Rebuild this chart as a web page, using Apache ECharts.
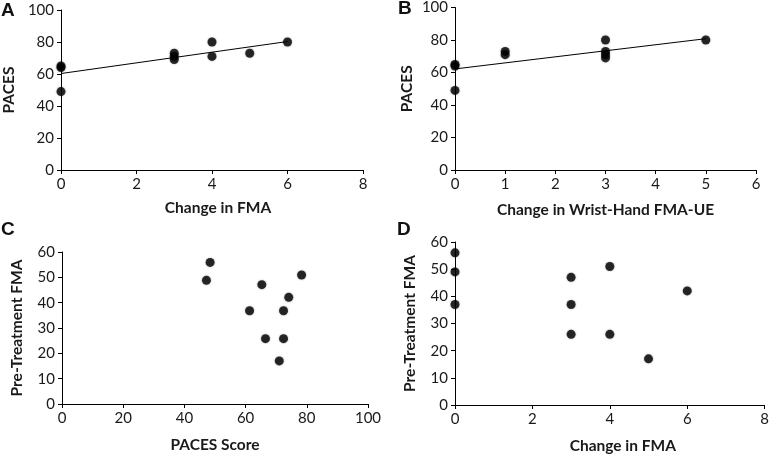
<!DOCTYPE html>
<html>
<head>
<meta charset="utf-8">
<script src="https://cdn.jsdelivr.net/npm/echarts@6/dist/echarts.min.js"></script>
<style>
html,body{margin:0;padding:0;background:#fff;}
#chart{width:772px;height:455px;}
</style>
</head>
<body>
<div id="chart"></div>
<script>
// Panel A: Change in FMA vs PACES
var panelA_x = [0, 0, 0, 3, 3, 3, 4, 4, 5, 6];
var panelA_y = [65, 64, 49, 73, 71, 69, 80, 71, 73, 80];
var trendA = [[0, 60.3], [6, 80.3]];
// Panel B: Change in Wrist-Hand FMA-UE vs PACES
var panelB_x = [0, 0, 0, 1, 1, 3, 3, 3, 3, 5];
var panelB_y = [65, 64, 49, 73, 71, 80, 73, 71, 69, 80];
var trendB = [[0, 62.2], [5, 80.8]];
// Panel C: PACES Score vs Pre-Treatment FMA
var panelC_x = [47.2, 48.4, 61.3, 65.3, 66.5, 71.0, 72.4, 72.4, 74.1, 78.3];
var panelC_y = [48.8, 55.9, 36.8, 47.1, 25.8, 17.0, 36.8, 25.8, 42.1, 50.9];
// Panel D: Change in FMA vs Pre-Treatment FMA
var panelD_x = [0, 0, 0, 3, 3, 3, 4, 4, 5, 6];
var panelD_y = [56, 49, 37, 47, 37, 26, 51, 26, 17, 42];

var panelLetters = ['A', 'B', 'C', 'D'];
var xNames = ['Change in FMA', 'Change in Wrist-Hand FMA-UE', 'PACES Score', 'Change in FMA'];
var yNames = ['PACES', 'PACES', 'Pre-Treatment FMA', 'Pre-Treatment FMA'];

function pairs(xs, ys) { return xs.map(function (v, i) { return [v, ys[i]]; }); }

var FONT = 'Lato, "Open Sans", sans-serif';
var axisLineStyle = { color: '#000', width: 1 };

function xAx(idx, min, max, interval, nameGap, padLeft) {
  return {
    gridIndex: idx, type: 'value', min: min, max: max, interval: interval,
    name: xNames[idx], nameLocation: 'middle', nameGap: nameGap,
    nameTextStyle: { fontFamily: FONT, fontWeight: 'bold', fontSize: 15.5, color: '#1a1a1a', padding: [0, 0, 0, padLeft] },
    axisLine: { show: true, lineStyle: axisLineStyle },
    axisTick: { show: true, length: 4, lineStyle: axisLineStyle },
    axisLabel: { fontFamily: FONT, fontSize: 15, color: '#1a1a1a', margin: 7 },
    splitLine: { show: false }
  };
}
function yAx(idx, min, max, interval, nameGap) {
  return {
    gridIndex: idx, type: 'value', min: min, max: max, interval: interval,
    name: yNames[idx], nameLocation: 'middle', nameGap: nameGap,
    nameTextStyle: { fontFamily: FONT, fontWeight: 'bold', fontSize: 15.5, color: '#1a1a1a' },
    axisLine: { show: true, lineStyle: axisLineStyle },
    axisTick: { show: true, length: 4, lineStyle: axisLineStyle },
    axisLabel: { fontFamily: FONT, fontSize: 15, color: '#1a1a1a', margin: 7 },
    splitLine: { show: false }
  };
}

var dotStyle = { color: '#000', shadowBlur: 2, shadowColor: 'rgba(0,0,0,0.4)' };
function scatter(idx, data) {
  return { type: 'scatter', xAxisIndex: idx, yAxisIndex: idx, data: data, symbolSize: 9, itemStyle: dotStyle, z: 3 };
}
function trend(idx, data) {
  return { type: 'line', xAxisIndex: idx, yAxisIndex: idx, data: data, symbol: 'none', lineStyle: { color: '#000', width: 1 }, z: 2, silent: true };
}

var letterPos = [[1, 1], [398, -1], [1, 220], [397, 220]];

var option = {
  backgroundColor: '#fff',
  animation: false,
  title: panelLetters.map(function (t, i) {
    return { text: t, left: letterPos[i][0], top: letterPos[i][1], padding: 0,
      textStyle: { fontFamily: 'Arial, "Liberation Sans", sans-serif', fontWeight: 'bold', fontSize: 19, color: '#111' } };
  }),
  grid: [
    { left: 59, top: 10, width: 304, height: 160 },
    { left: 455, top: 4, width: 301, height: 166 },
    { left: 62, top: 252, width: 306, height: 152 },
    { left: 455, top: 242, width: 313, height: 163 }
  ],
  xAxis: [
    xAx(0, 0, 8, 2, 30, 12),
    xAx(1, 0, 6, 1, 32, 0),
    xAx(2, 0, 100, 20, 33, 0),
    xAx(3, 0, 8, 2, 33, 26)
  ],
  yAxis: [
    yAx(0, 0, 100, 20, 44),
    yAx(1, 0, 100, 20, 40),
    yAx(2, 0, 60, 10, 37),
    yAx(3, 0, 60, 10, 37)
  ],
  series: [
    trend(0, trendA),
    scatter(0, pairs(panelA_x, panelA_y)),
    trend(1, trendB),
    scatter(1, pairs(panelB_x, panelB_y)),
    scatter(2, pairs(panelC_x, panelC_y)),
    scatter(3, pairs(panelD_x, panelD_y))
  ]
};

var chart = echarts.init(document.getElementById('chart'), null, { renderer: 'canvas' });
chart.setOption(option);
</script>
</body>
</html>
